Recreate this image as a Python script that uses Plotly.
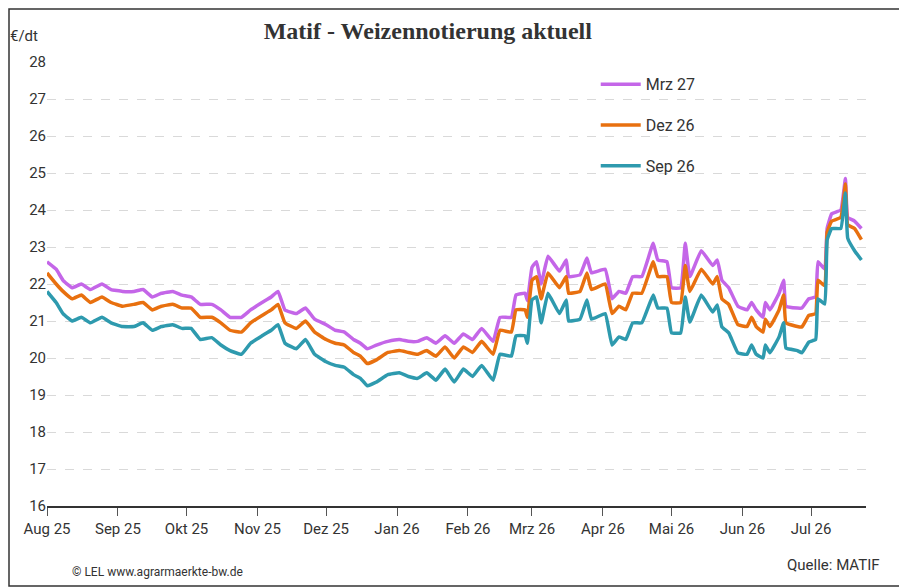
import plotly.graph_objects as go

dates = ["2025-08-01","2025-08-05","2025-08-08","2025-08-12","2025-08-16","2025-08-20","2025-08-25","2025-08-29",
"2025-09-03","2025-09-08","2025-09-12","2025-09-16","2025-09-20","2025-09-25","2025-09-29",
"2025-10-03","2025-10-07","2025-10-12","2025-10-16","2025-10-20","2025-10-25","2025-10-29",
"2025-11-03","2025-11-07","2025-11-10","2025-11-13","2025-11-18","2025-11-22","2025-11-26",
"2025-12-01","2025-12-05","2025-12-09","2025-12-13","2025-12-16","2025-12-19","2025-12-23","2025-12-28",
"2026-01-02","2026-01-06","2026-01-10","2026-01-14","2026-01-18","2026-01-22","2026-01-26","2026-01-30",
"2026-02-03","2026-02-07","2026-02-12","2026-02-15","2026-02-20","2026-02-22","2026-02-26","2026-02-27",
"2026-03-01","2026-03-03","2026-03-05","2026-03-08","2026-03-13","2026-03-16","2026-03-17","2026-03-22","2026-03-25","2026-03-27",
"2026-04-02","2026-04-05","2026-04-08","2026-04-11","2026-04-14","2026-04-18","2026-04-23","2026-04-25","2026-04-29",
"2026-05-01","2026-05-05","2026-05-07","2026-05-09","2026-05-14","2026-05-19","2026-05-21","2026-05-23","2026-05-26","2026-05-30",
"2026-06-03","2026-06-05","2026-06-07","2026-06-10","2026-06-11","2026-06-13","2026-06-17","2026-06-19","2026-06-20","2026-06-25","2026-06-27","2026-06-30",
"2026-07-03","2026-07-04","2026-07-07","2026-07-08","2026-07-10","2026-07-14","2026-07-16","2026-07-17","2026-07-20","2026-07-23"]

sep26 = [21.8,21.5,21.2,21.0,21.1,20.95,21.1,20.95,
20.85,20.85,20.95,20.75,20.85,20.9,20.8,
20.8,20.5,20.55,20.35,20.2,20.1,20.4,
20.6,20.75,20.9,20.4,20.25,20.5,20.1,
19.9,19.8,19.75,19.55,19.45,19.25,19.35,19.55,
19.6,19.5,19.45,19.6,19.4,19.7,19.35,19.7,
19.5,19.8,19.4,20.1,20.05,20.6,20.6,20.4,
21.57,21.65,20.95,21.75,21.2,21.57,21.0,21.05,21.57,21.05,
21.2,20.35,20.57,20.5,20.95,20.95,21.7,21.35,21.35,
20.68,20.68,21.65,20.97,21.7,21.24,21.43,20.84,20.68,20.14,
20.1,20.35,20.1,20.0,20.35,20.14,20.57,20.95,20.27,20.2,20.14,20.43,
20.5,21.6,21.46,23.19,23.5,23.5,24.46,23.24,22.9,22.65]

dez26 = [22.3,22.0,21.8,21.6,21.7,21.5,21.65,21.5,
21.4,21.45,21.5,21.3,21.4,21.45,21.35,
21.35,21.1,21.1,20.95,20.75,20.7,20.95,
21.15,21.3,21.45,20.95,20.8,21.0,20.7,
20.5,20.4,20.35,20.15,20.05,19.85,19.95,20.15,
20.2,20.15,20.1,20.2,20.05,20.3,20.0,20.3,
20.15,20.45,20.1,20.75,20.7,21.3,21.3,21.1,
22.1,22.2,21.6,22.3,21.9,22.2,21.75,21.8,22.3,21.85,
22.0,21.2,21.4,21.3,21.75,21.75,22.6,22.2,22.2,
21.5,21.5,22.5,21.8,22.4,22.0,22.2,21.6,21.45,20.9,
20.85,21.1,20.85,20.7,21.05,20.85,21.3,21.7,20.95,20.85,20.84,21.15,
21.2,22.1,21.95,23.4,23.7,23.8,24.7,23.6,23.5,23.2]

mrz27 = [22.6,22.4,22.1,21.9,22.0,21.85,22.0,21.85,
21.8,21.8,21.85,21.65,21.75,21.8,21.7,
21.65,21.45,21.45,21.3,21.1,21.1,21.3,
21.5,21.65,21.8,21.3,21.2,21.35,21.05,
20.9,20.75,20.7,20.5,20.4,20.25,20.35,20.45,
20.5,20.45,20.45,20.55,20.4,20.6,20.4,20.65,
20.5,20.8,20.45,21.1,21.1,21.7,21.75,21.55,
22.45,22.6,22.0,22.75,22.35,22.65,22.2,22.25,22.7,22.3,
22.4,21.6,21.8,21.75,22.2,22.2,23.1,22.65,22.6,
21.9,21.9,23.1,22.2,22.9,22.5,22.65,22.1,21.9,21.4,
21.3,21.5,21.3,21.1,21.5,21.3,21.75,22.1,21.4,21.35,21.35,21.6,
21.65,22.6,22.4,23.5,23.9,24.0,24.85,23.8,23.7,23.5]

tick_vals = ["2025-08-01","2025-09-01","2025-10-01","2025-11-01","2025-12-01","2026-01-01",
             "2026-02-01","2026-03-01","2026-04-01","2026-05-01","2026-06-01","2026-07-01"]
tick_text = ["Aug 25","Sep 25","Okt 25","Nov 25","Dez 25","Jan 26","Feb 26","Mrz 26","Apr 26","Mai 26","Jun 26","Jul 26"]

fig = go.Figure()
for i, (name, ys, col) in enumerate([("Mrz 27", mrz27, "#c466e8"), ("Dez 26", dez26, "#e8700f"), ("Sep 26", sep26, "#2e9aae")]):
    fig.add_trace(go.Scatter(x=dates, y=ys, name=name, mode="lines", legendgroup=f"g{i}",
                             line=dict(color=col, width=3.5, shape="spline", smoothing=0.3)))

fig.update_layout(
    width=899, height=579, paper_bgcolor="white", plot_bgcolor="white",
    margin=dict(l=39, r=41, t=54, b=81, autoexpand=False),
    font=dict(family="Roboto", size=15, color="#333"),
    title=dict(text="<b>Matif - Weizennotierung aktuell</b>", x=0.467, xanchor="center", y=0.976, yanchor="top",
               font=dict(family="Liberation Serif", size=24, color="#333")),
    showlegend=True,
    legend=dict(x=0.67, y=0.988, xanchor="left", yanchor="top", bgcolor="rgba(0,0,0,0)",
                font=dict(size=16, color="#333"), tracegroupgap=17, itemwidth=40),
    xaxis=dict(range=["2025-08-01","2026-07-25"], tickvals=tick_vals, ticktext=tick_text,
               showgrid=False, showline=True, linecolor="#333", linewidth=1.5, automargin=False,
               ticks="outside", ticklen=8, tickcolor="#555", tickfont=dict(size=15)),
    yaxis=dict(range=[16, 28], dtick=1, showgrid=True, gridcolor="#d9d9d9", griddash="dash",
               zeroline=False, ticks="", tickfont=dict(size=15), automargin=False),
    shapes=[dict(type="rect", xref="paper", yref="paper",
                 x0=(1-39)/819, x1=(897-39)/819, y0=(498-578)/444, y1=(498-1)/444,
                 line=dict(color="#333", width=1.5))],
    annotations=[
        dict(text="€/dt", xref="paper", yref="paper", x=(0-39)/819, y=(498-28)/444,
             xanchor="left", yanchor="middle", showarrow=False, font=dict(size=15)),
        dict(text="Quelle: MATIF", xref="paper", yref="paper", x=(874-39)/819, y=(498-557)/444,
             xanchor="right", yanchor="middle", showarrow=False, font=dict(size=15)),
        dict(text="© LEL www.agrarmaerkte-bw.de", xref="paper", yref="paper", x=(62-39)/819, y=(498-564)/444,
             xanchor="left", yanchor="middle", showarrow=False, font=dict(size=12)),
    ],
)
fig.write_html("out.html")
